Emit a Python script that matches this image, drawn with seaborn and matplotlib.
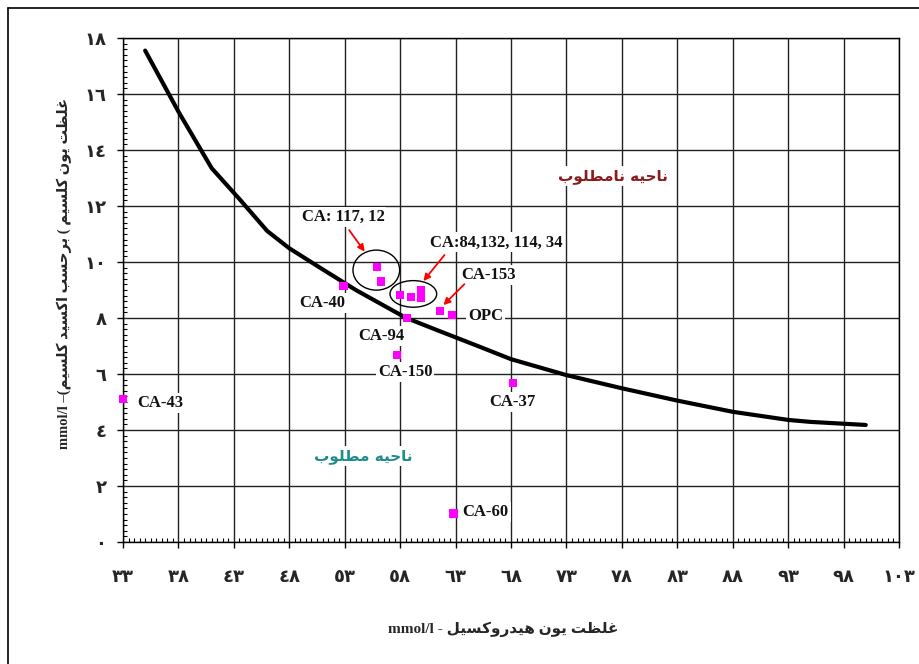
import matplotlib
matplotlib.use("Agg")
import matplotlib.pyplot as plt
import seaborn as sns
import pandas as pd
from matplotlib.patches import Ellipse
from matplotlib.lines import Line2D
from matplotlib.ticker import MultipleLocator, FixedLocator

# Solubility limit curve: hydroxyl vs calcium (as CaO) concentration, mmol/l
curve_oh = [35, 38, 41, 43.5, 46, 48, 51, 54, 58.5, 61.5, 65, 68, 73, 78, 83, 88, 93, 95, 100]
curve_cao = [17.55, 15.37, 13.35, 12.25, 11.11, 10.49, 9.74, 9.0, 8.01, 7.54, 7.0, 6.53,
             5.96, 5.49, 5.05, 4.65, 4.36, 4.29, 4.18]

# Measured samples
sample_names = ["CA-43", "CA-40", "CA-117", "CA-12", "CA-84", "CA-132", "CA-114", "CA-34",
                "CA-153", "OPC", "CA-94", "CA-150", "CA-37", "CA-60"]
sample_oh = [33.0, 52.9, 55.9, 56.3, 58.0, 59.0, 59.9, 59.9, 61.6, 62.7, 58.6, 57.7, 68.2, 62.8]
sample_cao = [5.1, 9.15, 9.82, 9.3, 8.81, 8.76, 9.0, 8.71, 8.24, 8.1, 8.01, 6.69, 5.68, 1.02]

x_ticks = list(range(33, 104, 5))
y_ticks = list(range(0, 19, 2))

# ---- minimal Persian shaping (presentation forms, visual order) ----
FORMS = {
    'ا': ('\uFE8D', '\uFE8E', None, None),
    'ب': ('\uFE8F', '\uFE90', '\uFE91', '\uFE92'),
    'ت': ('\uFE95', '\uFE96', '\uFE97', '\uFE98'),
    'ح': ('\uFEA1', '\uFEA2', '\uFEA3', '\uFEA4'),
    'د': ('\uFEA9', '\uFEAA', None, None),
    'ر': ('\uFEAD', '\uFEAE', None, None),
    'س': ('\uFEB1', '\uFEB2', '\uFEB3', '\uFEB4'),
    'ط': ('\uFEC1', '\uFEC2', '\uFEC3', '\uFEC4'),
    'ظ': ('\uFEC5', '\uFEC6', '\uFEC7', '\uFEC8'),
    'غ': ('\uFECD', '\uFECE', '\uFECF', '\uFED0'),
    'ک': ('\uFED9', '\uFEDA', '\uFEDB', '\uFEDC'),
    'ل': ('\uFEDD', '\uFEDE', '\uFEDF', '\uFEE0'),
    'م': ('\uFEE1', '\uFEE2', '\uFEE3', '\uFEE4'),
    'ن': ('\uFEE5', '\uFEE6', '\uFEE7', '\uFEE8'),
    'و': ('\uFEED', '\uFEEE', None, None),
    'ه': ('\uFEE9', '\uFEEA', '\uFEEB', '\uFEEC'),
    'ی': ('\uFEEF', '\uFEF0', '\uFEF3', '\uFEF4'),
}


def shape_word(word):
    out = []
    for i, ch in enumerate(word):
        iso, fin, ini, med = FORMS[ch]
        prev_joins = i > 0 and FORMS[word[i - 1]][2] is not None
        next_joins = i < len(word) - 1 and ini is not None
        if prev_joins and next_joins:
            out.append(med)
        elif prev_joins:
            out.append(fin)
        elif next_joins:
            out.append(ini)
        else:
            out.append(iso)
    return ''.join(reversed(out))


def fa(phrase):
    return ' '.join(shape_word(w) for w in reversed(phrase.split()))


AR_DIGITS = str.maketrans('0123456789', '٠١٢٣٤٥٦٧٨٩')

sns.set_theme(style="white")
plt.rcParams['font.family'] = ['Liberation Serif', 'DejaVu Sans']

fig = plt.figure(figsize=(9.2, 6.64), dpi=100)
ax = fig.add_axes([123 / 920, 1 - 542 / 664, 776 / 920, 504 / 664])

curve = pd.DataFrame({"oh": curve_oh, "cao": curve_cao})
samples = pd.DataFrame({"oh": sample_oh, "cao": sample_cao, "name": sample_names})

sns.lineplot(data=curve, x="oh", y="cao", color="black", linewidth=3.0, ax=ax,
             sort=False, zorder=4)
sns.scatterplot(data=samples, x="oh", y="cao", marker="s", color="#FF00FF", s=36,
                edgecolor="none", ax=ax, zorder=5, clip_on=False)

ax.set_xlim(33, 103)
ax.set_ylim(0, 18)
ax.xaxis.set_major_locator(FixedLocator(x_ticks))
ax.yaxis.set_major_locator(FixedLocator(y_ticks))
ax.xaxis.set_minor_locator(MultipleLocator(0.5))
ax.yaxis.set_minor_locator(MultipleLocator(0.2))
ax.set_xticklabels([str(v).translate(AR_DIGITS) for v in x_ticks],
                   family='DejaVu Sans', fontweight='bold', fontsize=13)
ax.set_yticklabels([str(v).translate(AR_DIGITS) for v in y_ticks],
                   family='DejaVu Sans', fontweight='bold', fontsize=13)
ax.tick_params(axis='both', which='major', direction='out', length=4, width=1,
               color='black', bottom=True, left=True)
ax.tick_params(axis='x', which='major', pad=15)
ax.tick_params(axis='y', which='major', pad=8)
ax.tick_params(axis='both', which='minor', direction='in', length=3, width=0.8,
               color='black', bottom=True, left=True, top=False, right=False)
ax.grid(True, which='major', color='#222222', linewidth=1.0)
ax.set_axisbelow(True)
for sp in ax.spines.values():
    sp.set_color('black')
    sp.set_linewidth(1.0)

xlab = "mmol/l - " + fa("غلظت یون هیدروکسیل")
ylab = "mmol/l \u2013(" + fa("برحسب اکسید کلسیم") + " ( " + fa("غلظت یون کلسیم")
ax.set_xlabel(xlab, fontsize=11, fontweight='bold', va='center')
ax.set_ylabel(ylab, fontsize=10.5, fontweight='bold', va='center', ha='center')
ax.xaxis.set_label_coords((503 - 123) / 776, (542 - 629) / 504)
ax.yaxis.set_label_coords((64 - 123) / 776, (542 - 273) / 504)

box = dict(facecolor='white', edgecolor='none', pad=1.5)
label_pos = [
    ("CA: 117, 12", 52.85, 11.62),
    ("CA:84,132, 114, 34", 66.7, 10.70),
    ("CA-153", 66.0, 9.54),
    ("OPC", 65.74, 8.07),
    ("CA-40", 51.0, 8.55),
    ("CA-94", 56.33, 7.36),
    ("CA-150", 58.44, 6.08),
    ("CA-37", 68.1, 4.99),
    ("CA-60", 65.7, 1.08),
    ("CA-43", 36.4, 4.96),
]
for txt, x, y in label_pos:
    ax.text(x, y, txt, ha='center', va='center', fontsize=12, fontweight='bold',
            color='#111111', bbox=box, zorder=6)

ax.text(77.2, 13.07, fa("ناحیه نامطلوب"), ha='center', va='center', fontsize=11,
        fontweight='bold', color='#8B1A1A', family='DejaVu Sans', bbox=box, zorder=6)
ax.text(54.68, 3.07, fa("ناحیه مطلوب"), ha='center', va='center', fontsize=11,
        fontweight='bold', color='#1F8C8C', family='DejaVu Sans', bbox=box, zorder=6)

# grouping ellipses
ax.add_patch(Ellipse((55.85, 9.71), 4.21, 1.43, fill=False, edgecolor='black', lw=1.0, zorder=6))
ax.add_patch(Ellipse((59.19, 8.86), 4.21, 0.95, fill=False, edgecolor='black', lw=1.0, zorder=6))

arrow = dict(arrowstyle='-|>', color='red', lw=1.3, mutation_scale=10, shrinkA=0, shrinkB=0)
for (x0, y0), (x1, y1) in [((53.4, 11.14), (54.8, 10.37)),
                           ((62.0, 10.25), (60.1, 9.32)),
                           ((63.8, 9.21), (61.9, 8.46))]:
    ax.annotate("", xy=(x1, y1), xytext=(x0, y0), arrowprops=arrow, zorder=7)

# outer frame edges
fig.add_artist(Line2D([8 / 920, 8 / 920], [0, 1 - 8 / 664], color='black', lw=1.2))
fig.add_artist(Line2D([8 / 920, 1], [1 - 8 / 664, 1 - 8 / 664], color='black', lw=1.2))

fig.savefig("out.png", dpi=100, facecolor='white')
